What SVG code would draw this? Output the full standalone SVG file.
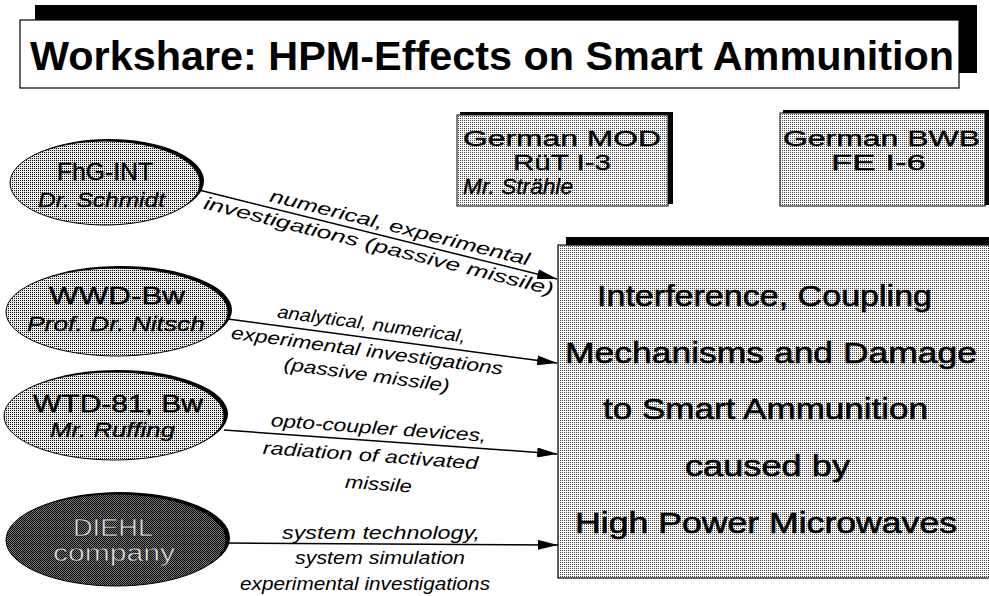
<svg xmlns="http://www.w3.org/2000/svg" width="989" height="596" viewBox="0 0 989 596">
<style>
.sans{font-family:"Liberation Sans",Arial,sans-serif}
.lbl{font-family:"Liberation Sans",Arial,sans-serif;font-style:italic;font-size:18px;fill:#000}
.node{font-family:"Liberation Sans",Arial,sans-serif;font-size:24px;fill:#000;stroke:#000;stroke-width:0.4}
.nodei{font-family:"Liberation Sans",Arial,sans-serif;font-style:italic;font-size:21px;fill:#000;stroke:#000;stroke-width:0.3}
.box{font-family:"Liberation Sans",Arial,sans-serif;font-size:22px;fill:#000;stroke:#000;stroke-width:0.4}
.main{font-family:"Liberation Sans",Arial,sans-serif;font-size:29px;fill:#000;stroke:#000;stroke-width:0.6}
.conn{stroke:#000;stroke-width:1.5;fill:none;marker-end:url(#arr)}
</style>
<defs>
<pattern id="dots" width="2" height="2" patternUnits="userSpaceOnUse"><rect width="1" height="1" fill="#000"/></pattern>
<pattern id="dotsl" width="2" height="2" patternUnits="userSpaceOnUse"><rect width="1" height="1" fill="#444"/></pattern>
<pattern id="check" width="2" height="2" patternUnits="userSpaceOnUse"><rect width="1" height="1" fill="#000"/><rect x="1" y="1" width="1" height="1" fill="#000"/></pattern>
<marker id="arr" viewBox="0 0 20 10" refX="20" refY="5" markerWidth="20" markerHeight="10" markerUnits="userSpaceOnUse" orient="auto"><path d="M0,0 L20,5 L0,10 z" fill="#000"/></marker>
</defs>
<rect width="989" height="596" fill="#fff"/>

<g id="title">
<rect x="35" y="5" width="942" height="68" fill="#000"/>
<rect x="20" y="20" width="939" height="68" fill="#fff" stroke="#000" stroke-width="1.2"/>
<text class="sans" x="30" y="70" font-size="40" font-weight="bold" textLength="924" lengthAdjust="spacingAndGlyphs">Workshare: HPM-Effects on Smart Ammunition</text>
</g>

<g id="mod">
<rect x="460" y="112" width="213" height="92" fill="#000"/>
<rect x="457" y="115" width="211" height="91" fill="#fff" stroke="#000"/>
<rect x="457" y="115" width="211" height="91" fill="url(#dotsl)"/>
<text class="box" x="463" y="146" textLength="198" lengthAdjust="spacingAndGlyphs">German MOD</text>
<text class="box" x="513" y="170" textLength="98" lengthAdjust="spacingAndGlyphs">RüT I-3</text>
<text class="box" x="463" y="194" font-style="italic" font-size="21" textLength="110" lengthAdjust="spacingAndGlyphs">Mr. Strähle</text>
</g>

<g id="bwb">
<rect x="783" y="110" width="210" height="95" fill="#000"/>
<rect x="780" y="113" width="205" height="93" fill="#fff" stroke="#000"/>
<rect x="780" y="113" width="205" height="93" fill="url(#dotsl)"/>
<text class="box" x="783" y="146" textLength="197" lengthAdjust="spacingAndGlyphs">German BWB</text>
<text class="box" x="831" y="170" textLength="95" lengthAdjust="spacingAndGlyphs">FE I-6</text>
</g>

<g id="effects">
<rect x="566" y="237" width="430" height="340" fill="#000"/>
<rect x="558" y="245" width="432" height="333" fill="#fff" stroke="#000" stroke-width="1.2"/>
<rect x="558" y="245" width="432" height="333" fill="url(#dotsl)"/>
<text class="main" x="597" y="306" textLength="335" lengthAdjust="spacingAndGlyphs">Interference, Coupling</text>
<text class="main" x="565" y="363" textLength="412" lengthAdjust="spacingAndGlyphs">Mechanisms and Damage</text>
<text class="main" x="603" y="419" textLength="325" lengthAdjust="spacingAndGlyphs">to Smart Ammunition</text>
<text class="main" x="685" y="476" textLength="165" lengthAdjust="spacingAndGlyphs">caused by</text>
<text class="main" x="575" y="533" textLength="382" lengthAdjust="spacingAndGlyphs">High Power Microwaves</text>
</g>

<g id="fhg">
<ellipse cx="109" cy="181" rx="95" ry="42" fill="#000"/>
<ellipse cx="105" cy="183" rx="95" ry="42" fill="#ececec" stroke="#000"/>
<ellipse cx="105" cy="183" rx="95" ry="42" fill="url(#dots)"/>
<text class="node" x="57" y="180" textLength="96" lengthAdjust="spacingAndGlyphs">FhG-INT</text>
<text class="nodei" x="38" y="207" textLength="127" lengthAdjust="spacingAndGlyphs">Dr. Schmidt</text>
</g>

<g id="wwd">
<ellipse cx="121" cy="310" rx="111" ry="44" fill="#000"/>
<ellipse cx="117" cy="312" rx="111" ry="44" fill="#ececec" stroke="#000"/>
<ellipse cx="117" cy="312" rx="111" ry="44" fill="url(#dots)"/>
<text class="node" x="49" y="304" textLength="136" lengthAdjust="spacingAndGlyphs">WWD-Bw</text>
<text class="nodei" x="27" y="331" textLength="178" lengthAdjust="spacingAndGlyphs">Prof. Dr. Nitsch</text>
</g>

<g id="wtd">
<ellipse cx="118" cy="414" rx="110" ry="44" fill="#000"/>
<ellipse cx="114" cy="416" rx="110" ry="44" fill="#ececec" stroke="#000"/>
<ellipse cx="114" cy="416" rx="110" ry="44" fill="url(#dots)"/>
<text class="node" x="33" y="412" textLength="170" lengthAdjust="spacingAndGlyphs">WTD-81, Bw</text>
<text class="nodei" x="50" y="437" textLength="125" lengthAdjust="spacingAndGlyphs">Mr. Ruffing</text>
</g>

<g id="diehl">
<ellipse cx="120" cy="538" rx="110" ry="46" fill="#000"/>
<ellipse cx="116" cy="540" rx="110" ry="46" fill="#7a7a7a" stroke="#000"/>
<ellipse cx="116" cy="540" rx="110" ry="46" fill="url(#check)"/>
<text class="node" x="73" y="536" font-size="23" stroke-width="0.8" textLength="80" lengthAdjust="spacingAndGlyphs" style="fill:#ddd">DIEHL</text>
<text class="node" x="53" y="561" font-size="23" stroke-width="0.8" textLength="122" lengthAdjust="spacingAndGlyphs" style="fill:#ddd">company</text>
</g>

<g id="connectors">
<g transform="translate(199,190) rotate(13.96)">
<line class="conn" x1="0" y1="0" x2="369" y2="0"/>
<text class="lbl" x="204" y="-6" text-anchor="middle" textLength="267" lengthAdjust="spacingAndGlyphs">numerical, experimental</text>
<text class="lbl" x="188" y="17" text-anchor="middle" textLength="360" lengthAdjust="spacingAndGlyphs">investigations (passive missile)</text>
</g>
<g transform="translate(228,319) rotate(7.62)">
<line class="conn" x1="0" y1="0" x2="332" y2="0"/>
<text class="lbl" x="143" y="-8" text-anchor="middle" textLength="190" lengthAdjust="spacingAndGlyphs">analytical, numerical,</text>
<text class="lbl" x="142" y="19" text-anchor="middle" textLength="274" lengthAdjust="spacingAndGlyphs">experimental investigations</text>
<text class="lbl" x="145" y="43" text-anchor="middle" textLength="167" lengthAdjust="spacingAndGlyphs">(passive missile)</text>
</g>
<g transform="translate(224,430) rotate(4.1)">
<line class="conn" x1="0" y1="0" x2="334" y2="0"/>
<text class="lbl" x="154" y="-7" text-anchor="middle" textLength="216" lengthAdjust="spacingAndGlyphs">opto-coupler devices,</text>
<text class="lbl" x="148" y="21" text-anchor="middle" textLength="216" lengthAdjust="spacingAndGlyphs">radiation of activated</text>
<text class="lbl" x="158" y="49" text-anchor="middle" textLength="67" lengthAdjust="spacingAndGlyphs">missile</text>
</g>
<line class="conn" x1="227" y1="543" x2="558" y2="545"/>
<text class="lbl" x="381" y="539" text-anchor="middle" textLength="198" lengthAdjust="spacingAndGlyphs">system technology,</text>
<text class="lbl" x="380" y="564" text-anchor="middle" textLength="170" lengthAdjust="spacingAndGlyphs">system simulation</text>
<text class="lbl" x="365" y="590" text-anchor="middle" textLength="250" lengthAdjust="spacingAndGlyphs">experimental investigations</text>
</g>
</svg>
